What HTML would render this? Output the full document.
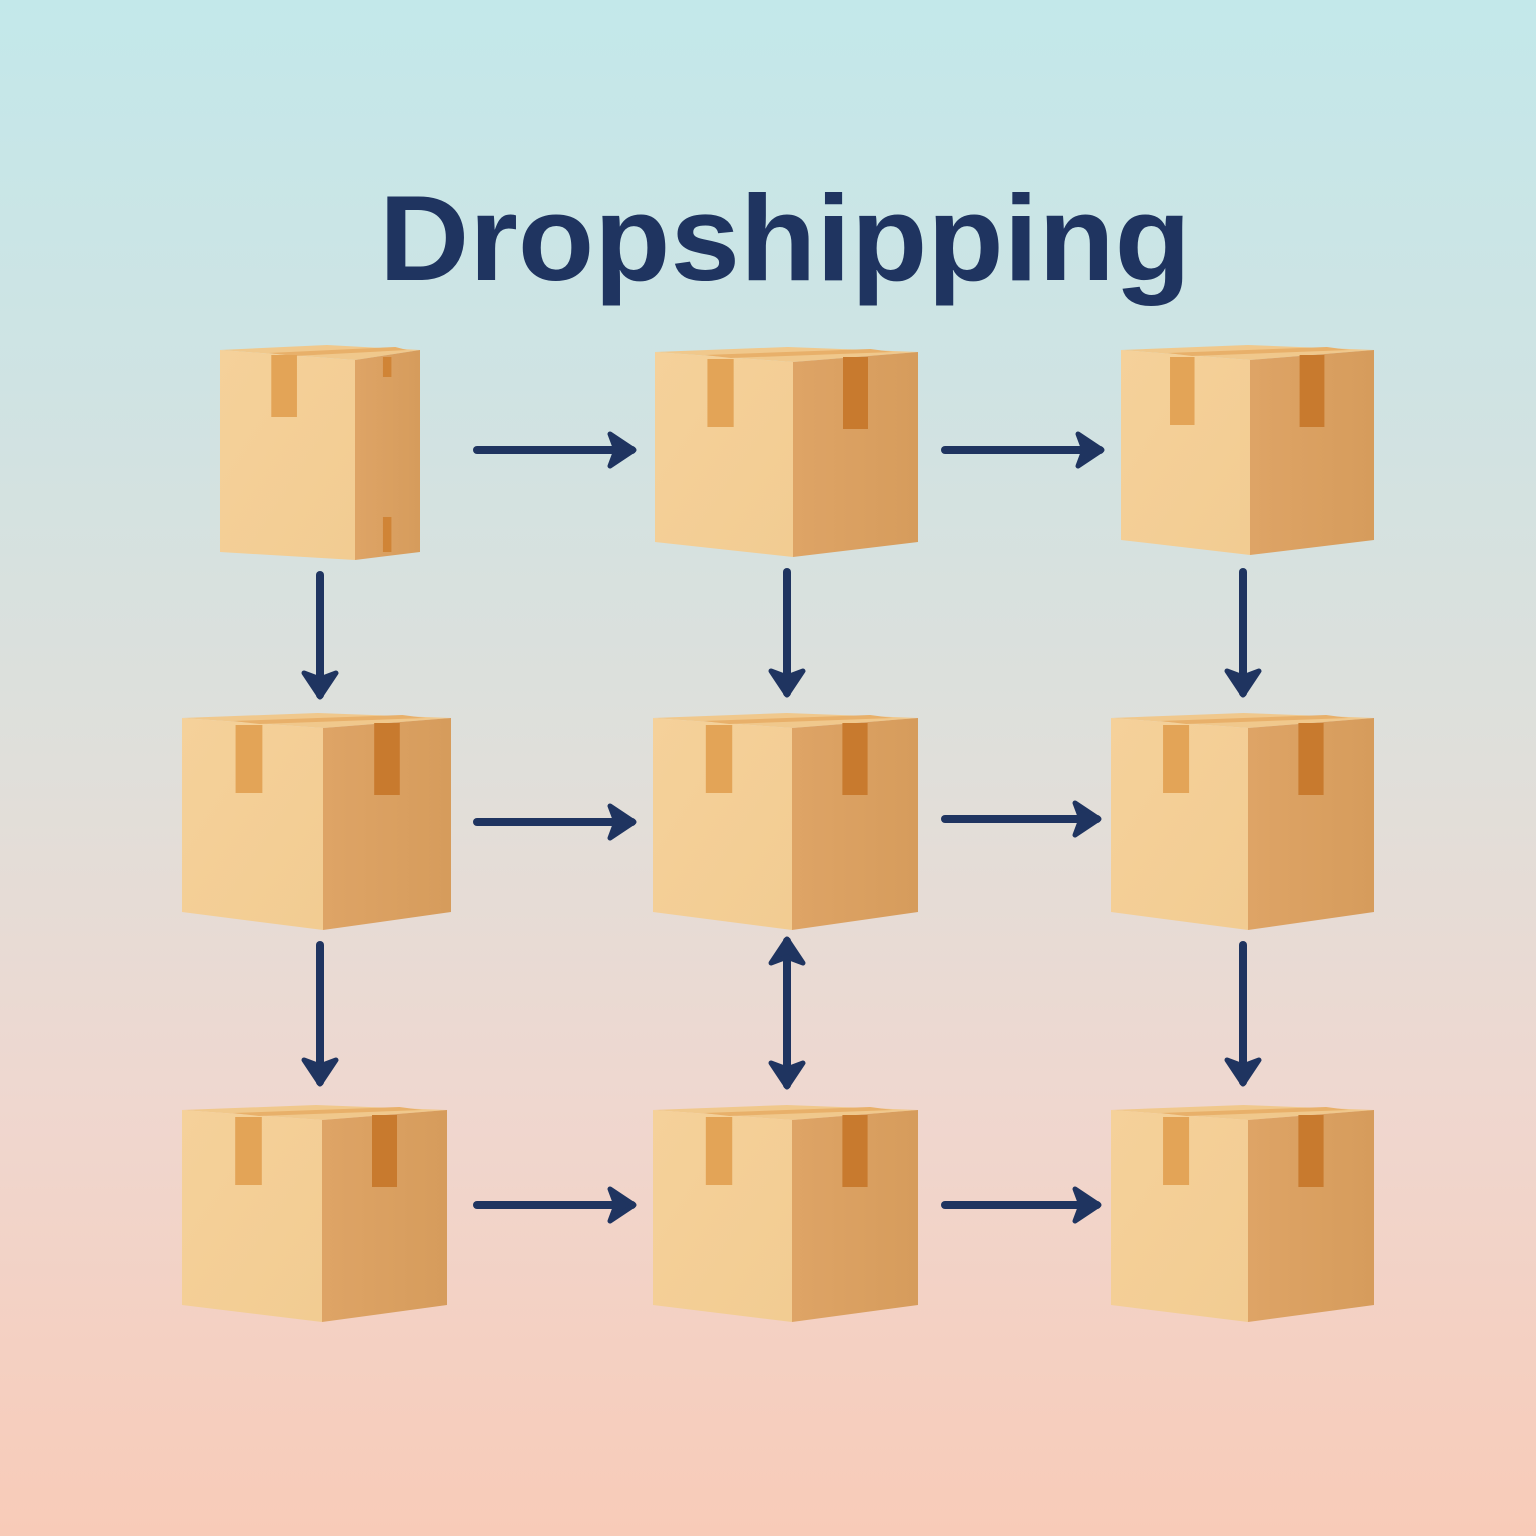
<!DOCTYPE html>
<html><head><meta charset="utf-8"><style>
html,body{margin:0;padding:0;width:1536px;height:1536px;overflow:hidden}
body{background:linear-gradient(#c3e8ea 0%,#cfe3e3 25%,#e0dfda 50%,#efd7cf 72%,#f8cbb8 100%)}
svg{display:block}
</style></head><body>
<svg width="1536" height="1536" viewBox="0 0 1536 1536" xmlns="http://www.w3.org/2000/svg">
<defs>
<linearGradient id="fr" x1="0" y1="0" x2="1" y2="1"><stop offset="0" stop-color="#f5d19a"/><stop offset="1" stop-color="#f2cc92"/></linearGradient>
<linearGradient id="rt" x1="0" y1="0" x2="1" y2="0"><stop offset="0" stop-color="#dea466"/><stop offset="1" stop-color="#d69c5c"/></linearGradient>
<marker id="ah" viewBox="0 0 20 20" refX="14" refY="10" markerWidth="5" markerHeight="5" orient="auto-start-reverse" markerUnits="strokeWidth"><path d="M3,2 L15,10 L3,18 L6,10 Z" fill="#1f3460" stroke="#1f3460" stroke-width="2.5" stroke-linecap="round" stroke-linejoin="round"/></marker>
</defs>
<text x="785" y="280" text-anchor="middle" font-family="Liberation Sans, sans-serif" font-weight="bold" font-size="122" fill="#1f3460" textLength="812" lengthAdjust="spacingAndGlyphs">Dropshipping</text>
<g id="boxes"></g>
<g stroke="#1f3460" stroke-width="8" stroke-linecap="round" fill="none" marker-end="url(#ah)">
<line x1="477" y1="450" x2="632" y2="450"/>
<line x1="945" y1="450" x2="1100" y2="450"/>
<line x1="477" y1="822" x2="632" y2="822"/>
<line x1="945" y1="819" x2="1097" y2="819"/>
<line x1="477" y1="1205" x2="632" y2="1205"/>
<line x1="945" y1="1205" x2="1097" y2="1205"/>
<line x1="320" y1="575" x2="320" y2="695"/>
<line x1="787" y1="572" x2="787" y2="693"/>
<line x1="1243" y1="572" x2="1243" y2="693"/>
<line x1="320" y1="945" x2="320" y2="1082"/>
<line x1="787" y1="941" x2="787" y2="1085" marker-start="url(#ah)"/>
<line x1="1243" y1="945" x2="1243" y2="1082"/>
</g>
</svg>
<script>
const B=[[220,355,420,350,552,560],[655,793,918,352,542,557],[1121,1250,1374,350,540,555],
[182,323,451,718,912,930],[653,792,918,718,912,930],[1111,1248,1374,718,912,930],
[182,322,447,1110,1305,1322],[653,792,918,1110,1305,1322],[1111,1248,1374,1110,1305,1322]];
let s='';
B.forEach(([a,c,r,t,b,bc],i)=>{
 const tc=t+10, tb=t-5;
 const mx=(a+r)/2+ (c-(a+r)/2)*0.2;
 s+=`<polygon points="${a},${t} ${mx},${tb} ${r},${t} ${c},${tc}" fill="#f0c88c"/>`;
 s+=`<polygon points="${a},${t} ${c},${tc} ${c},${bc} ${a},${b}" fill="url(#fr)"/>`;
 s+=`<polygon points="${c},${tc} ${r},${t} ${r},${b} ${c},${bc}" fill="url(#rt)"/>`;
 const fw=c-a, rw=r-c;
 const tx=a+fw*0.38, tw=fw*0.19;
 s+=`<polygon points="${a+fw*0.36},${t+3} ${r-rw*0.38},${t-3} ${r-rw*0.2},${t} ${a+fw*0.55},${t+6}" fill="#e8b06a"/>`;
 if(i==0){
  s+=`<rect x="${tx}" y="${t+5}" width="${tw}" height="${62}" fill="#e3a457"/>`;
  s+=`<rect x="${c+rw*0.43}" y="${t+7}" width="${rw*0.13}" height="20" fill="#d08436"/>`;
  s+=`<rect x="${c+rw*0.43}" y="${b-35}" width="${rw*0.13}" height="35" fill="#d08436"/>`;
 } else {
  s+=`<rect x="${tx}" y="${t+7}" width="${tw}" height="68" fill="#e3a457"/>`;
  s+=`<rect x="${c+rw*0.4}" y="${t+5}" width="${rw*0.2}" height="72" fill="#c87a2e"/>`;
 }
});
document.getElementById('boxes').innerHTML=s;
</script>
</body></html>
